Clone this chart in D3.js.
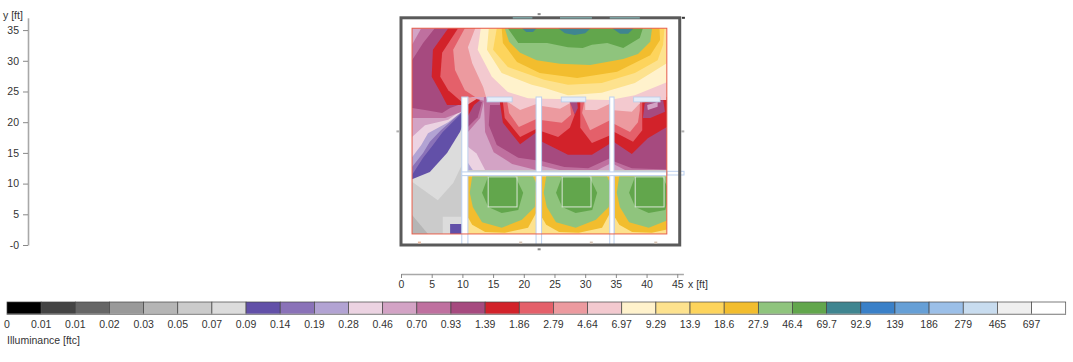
<!DOCTYPE html>
<html><head><meta charset="utf-8">
<style>html,body{margin:0;padding:0;background:#fff}svg{display:block}text{font-family:"Liberation Sans",Arial,sans-serif;fill:#333}</style>
<script src="https://cdn.jsdelivr.net/npm/d3@7/dist/d3.min.js"></script>
</head><body><svg id="c" width="1073" height="362"></svg>
<script>
const legendLabels=["0","0.01","0.01","0.02","0.03","0.05","0.07","0.09","0.14","0.19","0.28","0.46","0.70","0.93","1.39","1.86","2.79","4.64","6.97","9.29","13.9","18.6","27.9","46.4","69.7","92.9","139","186","279","465","697"];
const legendColors=["#000000","#444444","#666666","#999999","#b5b5b5","#cbcbcb","#dcdcdc","#6250a8","#8a72b8","#b2a3d3","#ecd3e2","#d3a3c5","#bf709f","#a64a7f","#d2222a","#e4606a","#ec9a9f","#f3c9cf","#fff2cc","#fde28e","#fdd45c","#f2bd2e","#8fc47d","#62a64c","#3f8590","#3a80c8","#669fd6","#9bbfe8","#c8dcef","#efefef","#ffffff"];
const xTicks=[0,5,10,15,20,25,30,35,40,45];
const yTicks=[0,5,10,15,20,25,30,35];

// contour bands in feet: [lower illuminance of the band, outline]
const openAreaBands=[
["0.05",[[1.8,1.8],[43.3,1.8],[43.3,35.3],[1.8,35.3]]],
["0.03",[[1.8,4.9],[4.4,1.8],[1.8,1.8]]],
["0.07",[[1.8,10.7],[1.8,10.3],[6.0,7.3],[8.5,10.1],[9.9,13.0],[9.9,18.7]]],
["0.07",[[6.8,4.6],[9.9,4.6],[9.9,1.8],[6.8,1.8]]],
["0.09",[[8.0,3.4],[9.9,3.4],[9.9,1.8],[8.0,1.8]]],
["0.09",[[1.8,10.7],[4.7,11.9],[7.5,15.0],[9.6,18.4],[10.9,21.7],[10.9,35.3],[1.8,35.3]]],
["0.14",[[1.8,11.4],[3.6,14.2],[5.0,16.0],[6.8,18.4],[9.9,21.5],[10.9,35.3],[1.8,35.3]]],
["0.19",[[1.8,12.7],[3.6,15.0],[4.7,16.8],[6.5,18.7],[9.9,21.7],[10.9,35.3],[1.8,35.3]]],
["0.28",[[1.8,14.3],[3.3,16.3],[4.4,18.2],[7.7,20.0],[9.9,21.7],[10.9,35.3],[1.8,35.3]]],
["0.46",[[1.8,17.6],[3.9,19.5],[7.7,20.4],[9.9,22.0],[10.9,35.3],[1.8,35.3]]],
["0.70",[[1.8,20.7],[3.9,20.7],[7.2,20.7],[9.9,21.7],[10.9,35.3],[1.8,35.3]]],
["0.46",[[1.8,32.6],[3.3,35.3],[1.8,35.3]]],
["0.93",[[1.8,22.3],[3.9,22.0],[6.7,21.5],[8.0,22.3],[9.9,23.0],[10.9,23.3],[10.9,35.3],[5.5,35.3],[3.6,32.9],[1.8,30.1]]],
["1.39",[[7.7,35.3],[5.2,31.8],[5.0,27.4],[6.4,24.9],[7.5,22.8],[9.9,22.8],[14.5,22.8],[14.5,35.3]]],
["1.86",[[9.3,35.3],[6.7,31.3],[6.4,27.4],[7.7,25.2],[9.9,23.3],[14.5,23.3],[14.5,35.3]]],
["2.79",[[10.4,35.3],[8.5,31.8],[8.8,28.5],[10.4,25.2],[12.4,23.9],[14.5,23.9],[14.5,35.3]]]
];
const officeBands=[
["0.46",[[10.9,12.2],[22.4,12.2],[22.4,24.1],[10.9,24.1]]],
["0.28",[[10.9,16.0],[12.3,14.9],[13.7,12.2],[10.9,12.2]]],
["0.19",[[10.9,13.4],[11.7,12.2],[10.9,12.2]]],
["0.70",[[13.5,23.5],[13.7,18.4],[15.1,15.1],[18.1,13.2],[22.0,12.2],[22.4,12.2],[22.4,24.1],[13.5,24.1]]],
["0.93",[[14.5,22.8],[14.3,19.5],[15.6,16.3],[19.1,14.2],[22.0,13.8],[22.4,13.8],[22.4,24.1],[16.4,24.1],[16.1,22.8]]],
["1.39",[[16.1,23.3],[16.6,19.9],[19.4,16.4],[22.4,18.6],[22.4,24.1],[16.1,24.1]]],
["1.86",[[16.6,23.3],[16.9,20.7],[19.4,17.6],[22.4,19.1],[22.4,24.1],[16.6,24.1]]],
["2.79",[[17.3,23.3],[17.6,21.5],[19.2,19.2],[22.4,20.7],[22.4,24.1],[17.3,24.1]]],
["4.64",[[17.4,23.3],[19.4,22.0],[22.4,23.1],[22.4,24.1],[17.4,24.1]]],
["0.70",[[10.9,18.4],[12.9,20.7],[13.5,23.5],[10.9,24.1]]],
["0.93",[[10.9,19.2],[12.5,20.8],[13.2,23.3],[10.9,24.1]]],
["1.39",[[10.9,21.0],[11.9,22.8],[12.9,23.6],[10.9,24.1]]],
["2.79",[[10.9,22.9],[12.5,23.9],[10.9,24.1]]],
["0.46",[[22.4,12.2],[34.2,12.2],[34.2,24.1],[22.4,24.1]]],
["0.70",[[22.4,13.0],[25.8,12.2],[32.0,12.2],[34.2,13.3],[34.2,24.1],[22.4,24.1]]],
["0.93",[[22.4,13.8],[26.6,12.7],[30.5,12.5],[34.2,14.2],[34.2,24.1],[22.4,24.1]]],
["1.39",[[22.4,17.1],[27.2,14.7],[31.1,14.7],[34.2,16.6],[34.2,24.1],[22.4,24.1]]],
["1.86",[[22.4,18.7],[25.6,17.6],[27.5,19.1],[28.3,21.2],[27.5,24.1],[22.4,24.1]]],
["1.86",[[29.2,19.1],[31.1,16.6],[34.2,17.9],[34.2,24.1],[29.2,24.1]]],
["2.79",[[22.4,20.4],[26.2,19.9],[27.7,21.2],[27.5,23.3],[27.2,24.1],[22.4,24.1]]],
["2.79",[[29.5,21.5],[30.8,18.7],[34.2,20.4],[34.2,24.1],[30.0,24.1]]],
["4.64",[[22.4,22.7],[25.9,22.2],[27.5,23.1],[27.2,24.1],[22.4,24.1]]],
["4.64",[[30.0,22.0],[31.9,22.0],[34.2,23.1],[34.2,24.1],[30.0,24.1]]],
["0.93",[[27.5,23.3],[28.3,21.2],[28.8,22.3],[28.7,23.3]]],
["0.46",[[34.2,12.2],[43.3,12.2],[43.3,24.1],[34.2,24.1]]],
["0.70",[[34.2,13.4],[36.5,12.2],[43.3,12.2],[43.3,24.1],[34.2,24.1]]],
["0.93",[[34.2,13.8],[37.6,12.5],[43.3,12.3],[43.3,24.1],[34.2,24.1]]],
["1.39",[[34.2,17.1],[37.6,14.8],[40.2,17.4],[43.3,19.2],[43.3,24.1],[34.2,24.1]]],
["1.86",[[34.2,18.7],[37.8,16.8],[39.3,18.7],[39.3,22.3],[39.3,24.1],[34.2,24.1]]],
["2.79",[[34.2,20.0],[37.3,18.4],[38.6,20.0],[38.9,22.0],[38.9,24.1],[34.2,24.1]]],
["4.64",[[34.2,22.0],[37.6,21.7],[38.9,23.1],[38.9,24.1],[34.2,24.1]]],
["0.93",[[39.7,23.1],[39.4,20.7],[40.6,20.7],[43.0,21.7],[42.7,23.6]]],
["0.46",[[40.1,22.8],[40.2,22.0],[41.8,22.5],[41.8,23.3]]]
];
const corridorBands=[
["4.64",[[12.1,35.3],[10.9,32.2],[11.6,29.6],[13.4,25.7],[14.0,23.6],[43.3,23.6],[43.3,35.3]]],
["6.97",[[13.0,35.3],[12.5,31.8],[14.8,27.4],[17.4,24.9],[20.7,23.9],[23.5,23.8],[34.0,23.6],[38.1,24.4],[43.3,26.5],[43.3,35.3]]],
["9.29",[[14.3,35.3],[14.0,31.8],[16.4,28.0],[21.3,26.1],[23.3,25.6],[27.2,24.4],[32.7,24.8],[38.1,26.4],[43.3,29.6],[43.3,35.3]]],
["13.9",[[15.6,35.3],[15.0,31.8],[17.4,29.0],[23.3,26.9],[27.2,26.1],[32.7,26.4],[38.1,28.0],[41.8,30.1],[42.7,32.6],[42.9,35.3]]],
["18.6",[[16.4,35.3],[16.6,32.9],[18.9,29.8],[22.6,28.0],[28.7,27.2],[35.2,28.2],[40.6,30.9],[42.2,33.4],[42.1,35.3]]],
["27.9",[[16.9,35.3],[17.6,33.1],[19.4,31.3],[22.1,30.1],[25.9,29.5],[30.8,29.3],[36.2,30.3],[38.6,31.1],[40.6,33.1],[40.9,35.3]]],
["46.4",[[17.4,35.3],[19.1,32.9],[23.8,32.9],[27.2,32.2],[29.6,32.1],[31.1,32.6],[33.6,32.9],[36.2,32.1],[38.9,33.7],[39.4,35.3]]],
["69.7",[[19.7,35.3],[20.4,34.7],[21.5,34.7],[22.1,35.3]]],
["69.7",[[25.6,35.3],[26.7,34.5],[28.3,34.2],[30.0,34.5],[30.9,35.3]]],
["69.7",[[34.4,35.3],[35.7,34.4],[37.0,34.4],[37.9,35.3]]]
];
// one lit room, repeated at each room's offset
const litRoomBands=[
["9.29",[[10.9,1.8],[22.0,1.8],[22.0,11.2],[10.9,11.2]]],
["18.6",[[10.9,11.2],[22.0,11.2],[22.0,5.2],[20.7,2.8],[16.9,2.0],[13.7,2.1],[11.6,3.3],[10.9,4.5]]],
["27.9",[[11.6,11.2],[21.5,11.2],[22.0,10.1],[21.8,6.2],[19.7,4.1],[16.4,2.8],[13.2,3.7],[11.7,6.2],[11.2,8.5]]],
["46.4",[[14.2,11.2],[18.6,11.2],[19.9,8.5],[19.1,5.7],[16.4,5.2],[14.2,6.2],[13.2,8.5]]]
];
const roomOffsets=[0,12.05,23.95];
const luminaire=[14.2,18.9,6.2,11.1];
const verticalWalls=[[9.9,10.9],[22.0,22.9],[34.0,34.7]];
const crossWall=[9.9,43.3,11.3,11.9];
const doorStub=[43.3,46.1,11.4,12.0];
const roomLabels=[[14.0,18.1],[26.1,30.1],[37.9,42.2]];
const wallMarks=[[18.2,21.4],[25.9,31.1],[34.0,38.9]];
const tinyMarks=[[22.5,37.6,"#8a8a8a"],[22.5,-0.7,"#8a8a8a"],[-0.5,18.5,"#b0b0b0"],[45.9,18.5,"#b0b0b0"],[46,37,"#333333"],[3,0.4,"#e9b9a0"],[19.5,0.4,"#d8c4b4"],[31,0.4,"#d8c4b4"],[41.5,0.4,"#d8c4b4"]];
const outerWall=[0,45.4,0,37];
const roomEdge=[1.8,43.3,1.8,35.3];

const svg=d3.select("#c");
const x=d3.scaleLinear([0,46],[401,683.4]);
const y=d3.scaleLinear([0,37],[245,17.8]);
const col=l=>legendColors[legendLabels.indexOf(l)];
const line=d3.line().x(p=>x(p[0])).y(p=>y(p[1])).curve(d3.curveLinearClosed);

const plan=svg.append("g").style("filter","blur(0.45px)");
const defs=svg.append("defs");
const clipRect=(id,a,b,c,d)=>defs.append("clipPath").attr("id",id).append("rect")
  .attr("x",x(a)).attr("width",x(b)-x(a)).attr("y",y(d)).attr("height",y(c)-y(d));
clipRect("roomclip",roomEdge[0],roomEdge[1],roomEdge[2],roomEdge[3]);
const area=plan.append("g").attr("clip-path","url(#roomclip)");
const drawBands=(g,bands)=>g.selectAll(null).data(bands).join("path")
  .attr("d",d=>line(d[1])).attr("fill",d=>col(d[0]));
drawBands(area,openAreaBands);
drawBands(area,officeBands);
drawBands(area,corridorBands);
roomOffsets.forEach((o,i)=>{
  const id="lit"+i, hi=Math.min(22.0+o,roomEdge[1]);
  clipRect(id,10.9+o,hi,1.8,11.2);
  const g=area.append("g").attr("clip-path","url(#"+id+")");
  const moved=litRoomBands.map(b=>[b[0],b[1].map(p=>[p[0]+o,p[1]])]);
  drawBands(g,moved);
  g.append("rect").attr("x",x(luminaire[0]+o)).attr("width",x(luminaire[1])-x(luminaire[0]))
   .attr("y",y(luminaire[3])).attr("height",y(luminaire[2])-y(luminaire[3]))
   .attr("fill","none").attr("stroke","#d9e6d6").attr("stroke-width",1);
});
const box=(g,a,b,c,d)=>g.append("rect").attr("x",x(a)).attr("width",x(b)-x(a)).attr("y",y(d)).attr("height",y(c)-y(d));
verticalWalls.forEach(w=>box(plan,w[0],w[1],0,24.1).attr("fill","#fff").attr("stroke","#bcd0ee").attr("stroke-width",1));
box(plan,crossWall[0],crossWall[1],crossWall[2],crossWall[3]).attr("fill","#fff").attr("stroke","#bcd0ee").attr("stroke-width",1);
box(plan,doorStub[0],doorStub[1],doorStub[2],doorStub[3]).attr("fill","none").attr("stroke","#bcd0ee").attr("stroke-width",1);
roomLabels.forEach(r=>box(plan,r[0],r[1],23.3,24.1).attr("fill","#e6edf8").attr("stroke","#b8cdea").attr("stroke-width",0.8));
box(plan,roomEdge[0],roomEdge[1],roomEdge[2],roomEdge[3]).attr("fill","none").attr("stroke","#e8604c").attr("stroke-width",1);
box(plan,outerWall[0],outerWall[1],outerWall[2],outerWall[3]).attr("fill","none").attr("stroke","#5a5a5a").attr("stroke-width",3);
wallMarks.forEach(m=>plan.append("line").attr("x1",x(m[0])).attr("x2",x(m[1])).attr("y1",y(37)).attr("y2",y(37)).attr("stroke","#7fa6a6").attr("stroke-width",1.5));
plan.append("g").selectAll("rect").data(tinyMarks).join("rect")
  .attr("x",d=>x(d[0])-1.5).attr("y",d=>y(d[1])-1).attr("width",3).attr("height",2).attr("fill",d=>d[2]);

const styleAxis=g=>{
  g.selectAll(".domain").attr("stroke","#a8a8a8").attr("stroke-width",1.6);
  g.selectAll(".tick line").attr("stroke","#888");
  g.selectAll("text").attr("font-family",'"Liberation Sans",Arial,sans-serif').attr("font-size",10.5).attr("fill","#333");
};
svg.append("g").attr("transform","translate(28,0)")
  .call(d3.axisLeft(y).tickValues(yTicks).tickSize(5).tickSizeOuter(0).tickPadding(4).tickFormat(d=>d===0?"-0":d))
  .call(styleAxis);
svg.append("g").attr("transform","translate(0,274)")
  .call(d3.axisBottom(x).tickValues(xTicks).tickSize(4).tickSizeOuter(0).tickPadding(3))
  .call(styleAxis);
svg.append("text").attr("x",3).attr("y",19).attr("font-size",10.5).text("y [ft]");
svg.append("text").attr("x",688).attr("y",288).attr("font-size",10.5).text("x [ft]");

const lg=d3.scaleBand(d3.range(legendColors.length),[7,1065.7]);
svg.append("g").selectAll("rect").data(legendColors).join("rect")
  .attr("x",(d,i)=>lg(i)).attr("y",302).attr("width",lg.bandwidth()).attr("height",12.5)
  .attr("fill",d=>d).attr("stroke","#444").attr("stroke-width",0.7);
svg.append("rect").attr("x",7).attr("y",313.6).attr("width",1058.7).attr("height",1).attr("fill","#aaa");
svg.append("g").selectAll("text").data(legendLabels).join("text")
  .attr("x",(d,i)=>lg(i)).attr("y",328).attr("text-anchor","middle").attr("font-size",10.5).text(d=>d);
svg.append("text").attr("x",7).attr("y",344).attr("font-size",10.5).text("Illuminance [ftc]");
</script></body></html>
